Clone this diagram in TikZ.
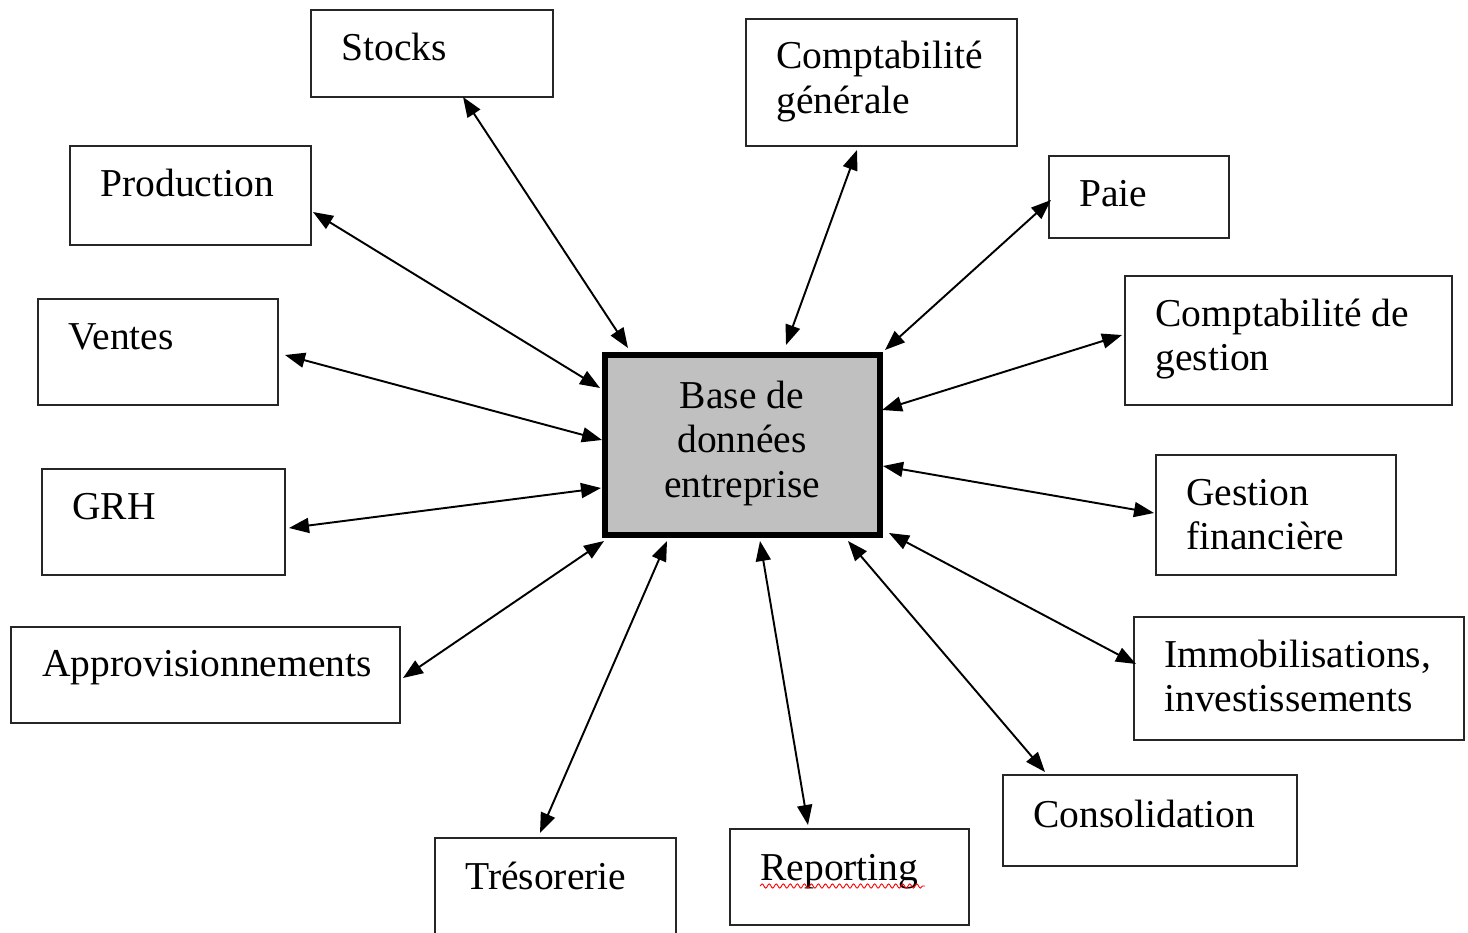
\documentclass[tikz,border=0pt]{standalone}
\usepackage{fontspec}
\setmainfont{Liberation Serif}
\usetikzlibrary{arrows.meta,fit,decorations.pathmorphing}
\definecolor{dbgray}{RGB}{192,192,192}
\begin{document}
\begin{tikzpicture}[x=0.02cm,y=-0.02cm,
  box/.style={draw=black!85,line width=1.2pt,inner sep=0pt},
  dbbox/.style={draw=black,line width=3.4pt,fill=dbgray,inner sep=0pt},
  lbl/.style={anchor=base west,inner sep=0pt,font=\fontsize{22.5}{25}\selectfont},
  clbl/.style={anchor=base,inner sep=0pt,font=\fontsize{22.5}{25}\selectfont},
  arr/.style={line width=1.1pt,{Triangle[length=0.4cm,width=0.3cm]}-{Triangle[length=0.4cm,width=0.3cm]}}]
\useasboundingbox (0,0) rectangle (1468,933);

% boxes
\node (stocks) [box, fit={(311,10)(553,97)}] {};
\node (cg)     [box, fit={(746,19)(1017,146)}] {};
\node (prod)   [box, fit={(70,146)(311,245)}] {};
\node (paie)   [box, fit={(1049,156)(1229,238)}] {};
\node (ventes) [box, fit={(38,299)(278,405)}] {};
\node (cdg)    [box, fit={(1125,276)(1452,405)}] {};
\node (grh)    [box, fit={(42,469)(285,575)}] {};
\node (gf)     [box, fit={(1156,455)(1396,575)}] {};
\node (appro)  [box, fit={(11,627)(400,723)}] {};
\node (immo)   [box, fit={(1134,617)(1464,740)}] {};
\node (conso)  [box, fit={(1003,775)(1297,866)}] {};
\node (treso)  [box, fit={(435,838)(676,960)}] {};
\node (report) [box, fit={(730,829)(969,925)}] {};
\node (db)     [dbbox, fit={(605,355)(880,535)}] {};

% labels
\node (tstocks) [lbl] at (341,60) {Stocks};
\node (tcg1)    [lbl] at (776,69) {Comptabilité};
\node (tcg2)    [lbl] at (776,113) {générale};
\node (tprod)   [lbl] at (100,196) {Production};
\node (tpaie)   [lbl] at (1079,206) {Paie};
\node (tventes) [lbl] at (68,349) {Ventes};
\node (tcdg1)   [lbl] at (1155,326) {Comptabilité de};
\node (tcdg2)   [lbl] at (1155,370) {gestion};
\node (tgrh)    [lbl] at (72,519) {GRH};
\node (tgf1)    [lbl] at (1186,505) {Gestion};
\node (tgf2)    [lbl] at (1186,549) {financière};
\node (tappro)  [lbl] at (42,676) {Approvisionnements};
\node (timmo1)  [lbl] at (1164,667) {Immobilisations,};
\node (timmo2)  [lbl] at (1164,711) {investissements};
\node (tconso)  [lbl] at (1033,827) {Consolidation};
\node (ttreso)  [lbl] at (465,889) {Trésorerie};
\node (treport) [lbl] at (760,880) {Reporting};
\node (tdb1)    [clbl] at (742,408) {Base de};
\node (tdb2)    [clbl] at (742,452) {données};
\node (tdb3)    [clbl] at (742,497) {entreprise};

% spell-check underline
\coordinate (w1) at (760,886);
\coordinate (w2) at (925,886);
\draw[red,line width=0.5pt,decorate,decoration={snake,amplitude=1.2pt,segment length=4pt}] (w1) -- (w2);

% arrow end points
\coordinate (a1) at (463,97);   \coordinate (b1) at (628,348);
\coordinate (a2) at (857,150);  \coordinate (b2) at (786,345);
\coordinate (a3) at (313,212);  \coordinate (b3) at (600,388);
\coordinate (a4) at (1051,200); \coordinate (b4) at (885,350);
\coordinate (a5) at (285,355);  \coordinate (b5) at (602,440);
\coordinate (a6) at (1122,335); \coordinate (b6) at (882,410);
\coordinate (a7) at (289,528);  \coordinate (b7) at (601,488);
\coordinate (a8) at (1154,513); \coordinate (b8) at (883,466);
\coordinate (a9) at (403,678);  \coordinate (b9) at (604,541);
\coordinate (a10) at (1136,664);\coordinate (b10) at (889,533);
\coordinate (a11) at (540,833); \coordinate (b11) at (667,541);
\coordinate (a12) at (808,825); \coordinate (b12) at (760,541);
\coordinate (a13) at (1045,772);\coordinate (b13) at (848,541);

\foreach \i in {1,...,13} {\draw[arr] (a\i) -- (b\i);}
\end{tikzpicture}
\end{document}
